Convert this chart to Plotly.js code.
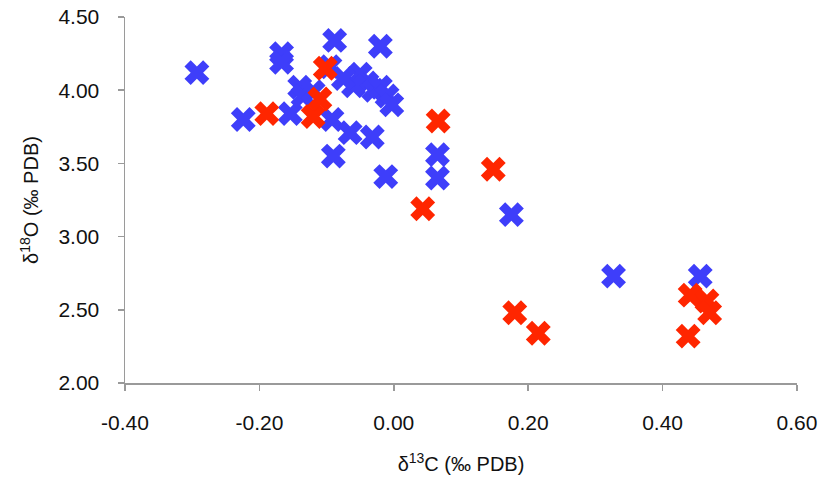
<!DOCTYPE html>
<html>
<head>
<meta charset="utf-8">
<script src="https://cdn.plot.ly/plotly-3.0.1.min.js"></script>
<style>html,body{margin:0;padding:0;background:#fff;}#chart{width:824px;height:487px;}</style>
</head>
<body>
<div id="chart"></div>
<script>
// Blue series (δ13C, δ18O)
const blueX = [-0.293, -0.224, -0.167, -0.167, -0.154, -0.140, -0.135, -0.120, -0.095, -0.088, -0.092, -0.090, -0.065, -0.032, -0.012, -0.020, -0.050, -0.040, -0.030, -0.020, -0.010, -0.003, -0.060, -0.075, 0.065, 0.065, 0.175, 0.327, 0.456];
const blueY = [4.12, 3.80, 4.25, 4.19, 3.84, 4.02, 3.96, 3.99, 4.16, 4.34, 3.80, 3.55, 3.71, 3.68, 3.41, 4.30, 4.11, 4.05, 4.00, 4.02, 3.96, 3.90, 4.03, 4.08, 3.56, 3.40, 3.15, 2.73, 2.73];
// Red series
const redX = [-0.189, -0.120, -0.110, -0.102, 0.066, 0.148, 0.043, 0.180, 0.215, 0.441, 0.466, 0.470, 0.438];
const redY = [3.84, 3.82, 3.94, 4.15, 3.79, 3.46, 3.19, 2.48, 2.34, 2.60, 2.56, 2.48, 2.32];

const xTicks = [-0.4, -0.2, 0, 0.2, 0.4, 0.6];
const xTickText = ['-0.40', '-0.20', '0.00', '0.20', '0.40', '0.60'];
const yTicks = [2.0, 2.5, 3.0, 3.5, 4.0, 4.5];
const yTickText = ['2.00', '2.50', '3.00', '3.50', '4.00', '4.50'];

const FONT = 'Liberation Sans, Arial, Helvetica, sans-serif';

const traces = [
  {x: blueX, y: blueY, type: 'scatter', mode: 'markers', name: 'blue',
   marker: {symbol: 'x', size: 22, color: 'rgb(62,62,250)', line: {width: 0}}},
  {x: redX, y: redY, type: 'scatter', mode: 'markers', name: 'red',
   marker: {symbol: 'x', size: 22, color: 'rgb(255,38,0)', line: {width: 0}}}
];

const axisCommon = {
  showgrid: false, zeroline: false, showline: true, linecolor: '#9a9a9a', linewidth: 1.5,
  ticks: 'outside', ticklen: 6, tickcolor: '#9a9a9a', tickwidth: 1.5,
  tickfont: {family: FONT, size: 21, color: '#111'}
};

const layout = {
  width: 824, height: 487,
  margin: {l: 125, r: 27, t: 17, b: 104},
  paper_bgcolor: '#fff', plot_bgcolor: '#fff',
  showlegend: false,
  xaxis: Object.assign({}, axisCommon, {
    range: [-0.4, 0.6], tickmode: 'array', tickvals: xTicks, ticktext: xTickText,
    ticklabelstandoff: 14,
    title: {text: 'δ<sup>13</sup>C (‰ PDB)', font: {family: FONT, size: 20, color: '#111'}, standoff: 24}
  }),
  yaxis: Object.assign({}, axisCommon, {
    range: [2.0, 4.5], tickmode: 'array', tickvals: yTicks, ticktext: yTickText,
    ticklabelstandoff: 14,
    title: {text: 'δ<sup>18</sup>O (‰ PDB)', font: {family: FONT, size: 20, color: '#111'}, standoff: 14}
  })
};

Plotly.newPlot('chart', traces, layout, {displayModeBar: false, staticPlot: true});
</script>
</body>
</html>
